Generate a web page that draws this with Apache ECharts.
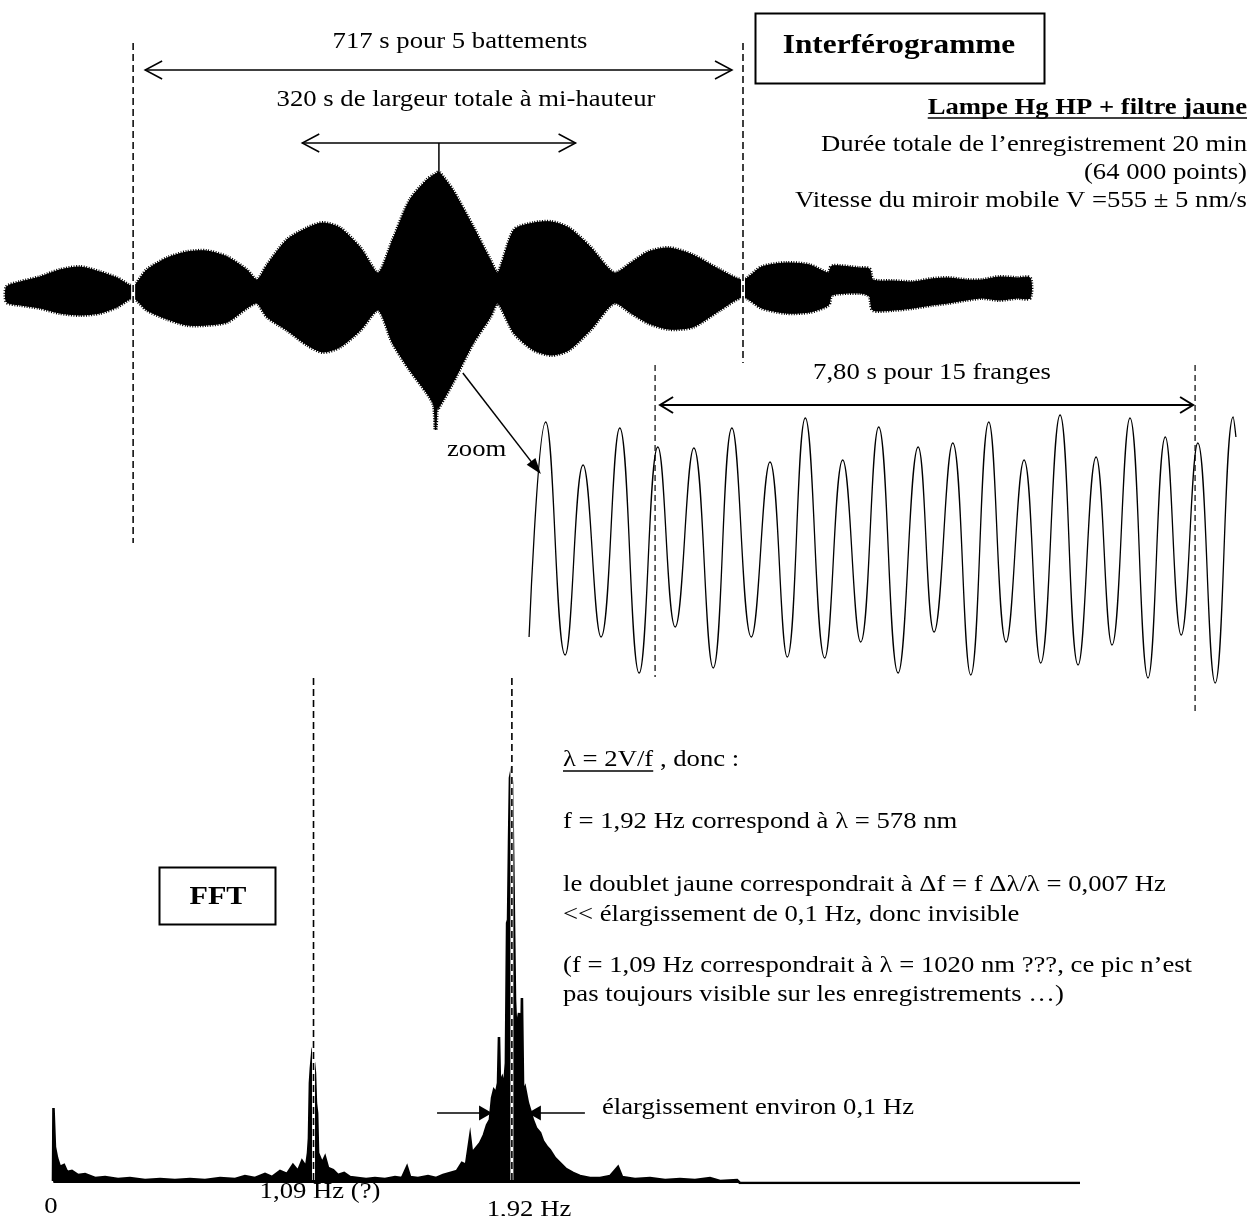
<!DOCTYPE html>
<html><head><meta charset="utf-8">
<script src="https://cdn.jsdelivr.net/npm/echarts@6/dist/echarts.min.js"></script>
<style>html,body{margin:0;padding:0;background:#fff}#c{width:1258px;height:1216px}</style>
</head><body><div id="c"></div>
<script>
// ================= DATA =================
// Interferogram envelope (time in s, signal in arbitrary units)
const envTime = [2,18,41,64,88,111,131,150,166,190,
  213,236,260,283,295,307,330,354,372,392,
  416,437,454,474,494,502,504,506,508,524,
  548,568,577,596,619,640,660,685,713,733,
  753,777,805,837,864,886,914,942,964,968,
  1000,1012,1016,1040,1063,1085,1104,1125,1144,1164,
  1185,1200];
const envUpper = [0.06,0.11,0.16,0.23,0.26,0.21,0.15,0.07,0.23,0.35,
  0.41,0.42,0.36,0.23,0.13,0.28,0.53,0.65,0.70,0.65,
  0.45,0.20,0.53,0.93,1.13,1.18,1.19,1.20,1.21,1.03,
  0.66,0.33,0.20,0.63,0.70,0.71,0.65,0.46,0.20,0.30,
  0.41,0.45,0.38,0.23,0.13,0.26,0.30,0.28,0.20,0.27,
  0.25,0.24,0.13,0.12,0.11,0.14,0.15,0.13,0.13,0.16,
  0.15,0.15];
const envLower = [-0.09,-0.12,-0.15,-0.20,-0.22,-0.20,-0.14,-0.05,-0.17,-0.26,
  -0.32,-0.32,-0.29,-0.15,-0.10,-0.24,-0.37,-0.52,-0.59,-0.54,
  -0.37,-0.17,-0.50,-0.77,-1.00,-1.12,-1.37,-1.15,-1.14,-0.90,
  -0.50,-0.24,-0.10,-0.40,-0.57,-0.62,-0.57,-0.37,-0.10,-0.20,
  -0.30,-0.36,-0.34,-0.17,-0.04,-0.15,-0.20,-0.19,-0.12,-0.02,
  0.00,-0.03,-0.17,-0.17,-0.15,-0.12,-0.10,-0.07,-0.05,-0.07,
  -0.05,-0.05];
const beatMarks = [150, 864];        // s  (717 s for 5 beats)
const peakTime = 508;                // s
const fwhm = 320;                    // s

// Zoom: fringe extrema (time in s, signal arbitrary units)
const zoomTime = [0.03,0.27,0.55,0.81,1.07,1.34,1.62,1.89,2.14,2.41,
  2.69,2.96,3.24,3.51,3.76,4.02,4.30,4.56,4.82,5.08,
  5.36,5.65,5.88,6.15,6.41,6.67,6.92,7.18,7.42,7.70,
  7.96,8.22,8.45,8.71,8.97,9.22,9.45,9.69,9.94,10.20,
  10.24];
const zoomSignal = [-0.87,1.28,-1.05,0.85,-0.87,1.22,-1.23,1.03,-0.77,1.02,
  -1.18,1.22,-0.87,0.88,-1.07,1.32,-1.08,0.90,-0.92,1.23,
  -1.23,1.03,-0.82,1.07,-1.25,1.28,-0.92,0.90,-1.13,1.35,
  -1.15,0.93,-0.95,1.32,-1.28,1.13,-0.85,1.07,-1.33,1.33,
  1.13];
const fringeMarks = [1.85, 9.65];    // s (7,80 s for 15 fringes)

// FFT spectrum (frequency in Hz, amplitude arbitrary units)
const fftFreq = [0,0.002,0.008,0.017,0.029,0.046,0.059,0.079,0.105,0.134,
  0.176,0.218,0.272,0.322,0.385,0.448,0.510,0.573,0.636,0.699,
  0.762,0.803,0.845,0.887,0.916,0.950,0.979,1.004,1.025,1.042,
  1.059,1.067,1.071,1.075,1.079,1.084,1.088,1.092,1.096,1.100,
  1.105,1.109,1.113,1.126,1.138,1.151,1.172,1.192,1.218,1.243,
  1.276,1.310,1.347,1.389,1.431,1.460,1.481,1.494,1.527,1.569,
  1.603,1.632,1.661,1.690,1.711,1.728,1.745,1.753,1.770,1.787,
  1.803,1.816,1.828,1.837,1.845,1.854,1.862,1.866,1.870,1.879,
  1.887,1.895,1.900,1.904,1.908,1.912,1.916,1.921,1.925,1.929,
  1.933,1.937,1.941,1.950,1.958,1.962,1.967,1.975,1.987,2.000,
  2.008,2.021,2.038,2.050,2.067,2.079,2.100,2.121,2.146,2.176,
  2.205,2.247,2.289,2.331,2.364,2.381,2.435,2.498,2.561,2.623,
  2.686,2.749,2.791,2.862,2.874,4.297];
const fftAmp = [0.02,0.75,0.36,0.25,0.16,0.18,0.11,0.12,0.08,0.09,
  0.05,0.06,0.04,0.05,0.03,0.04,0.03,0.04,0.03,0.05,
  0.04,0.07,0.05,0.09,0.06,0.12,0.09,0.18,0.12,0.22,
  0.16,0.30,0.45,1.00,1.15,1.28,1.30,1.20,1.10,0.80,
  0.70,0.30,0.28,0.20,0.26,0.15,0.13,0.08,0.10,0.06,
  0.05,0.04,0.05,0.04,0.06,0.05,0.16,0.06,0.05,0.07,
  0.05,0.08,0.10,0.12,0.20,0.18,0.46,0.30,0.35,0.40,
  0.48,0.58,0.63,0.85,0.93,0.90,1.00,1.46,1.00,1.05,
  0.95,1.20,2.60,2.63,3.40,4.05,4.10,4.00,3.30,3.30,
  1.83,1.60,1.56,1.70,1.20,1.85,0.90,0.95,0.80,0.70,
  0.63,0.55,0.50,0.42,0.36,0.33,0.25,0.20,0.14,0.10,
  0.07,0.05,0.05,0.07,0.16,0.06,0.04,0.05,0.03,0.04,
  0.03,0.05,0.02,0.03,0,0];
const peakFreqs = [1.09, 1.92];      // Hz
const broadening = [1.837, 1.987];   // Hz, arrow tips (~0.1 Hz)

// ================= CHART =================
const chart = echarts.init(document.getElementById('c'), null, {renderer:'canvas', width:1258, height:1216});
const SERIF = '"Liberation Serif","Times New Roman",serif';
const SX = 1.16;
const FS = 23;

function dashedMarker(axisIdx, marks, tops, bottoms, halo, width, dash){
  return {
    type:'custom', xAxisIndex:axisIdx, yAxisIndex:axisIdx, z:5, silent:true,
    encode:{x:0, y:[1,2]},
    data: marks.map((m,i)=>[m, tops[i], bottoms[i]]),
    renderItem:(params, api)=>{
      const x = api.value(0);
      const p1 = api.coord([x, api.value(1)]);
      const p2 = api.coord([x, api.value(2)]);
      const ch = [];
      if (halo) ch.push({type:'line', shape:{x1:p1[0],y1:p1[1],x2:p2[0],y2:p2[1]}, style:{stroke:'#fff', lineWidth:halo}});
      ch.push({type:'line', shape:{x1:p1[0],y1:p1[1],x2:p2[0],y2:p2[1]}, style:{stroke:'#000', lineWidth:width, lineDash:dash}});
      return {type:'group', children:ch};
    }
  };
}

const option = {
  backgroundColor:'#fff',
  animation:false,
  grid:[
    {left:5, top:43, width:1025, height:500},
    {left:527, top:360, width:711, height:360},
    {left:53, top:678, width:1027, height:505}
  ],
  xAxis:[
    {gridIndex:0, type:'value', min:0, max:1200, show:false},
    {gridIndex:1, type:'value', min:0, max:10.27, show:false},
    {gridIndex:2, type:'value', min:0, max:4.297, show:false}
  ],
  yAxis:[
    {gridIndex:0, type:'value', min:-2.5, max:2.5, show:false},
    {gridIndex:1, type:'value', min:-1.7, max:1.9, show:false},
    {gridIndex:2, type:'value', min:0, max:5.05, show:false}
  ],
  series:[
    { // interferogram envelope (filled black band)
      type:'custom', xAxisIndex:0, yAxisIndex:0, z:2, silent:true,
      data:[[envTime[0], envUpper[0]]],
      renderItem:(params, api)=>{
        const pts = [];
        for (let i=0;i<envTime.length;i++) pts.push(api.coord([envTime[i], envUpper[i]]));
        for (let i=envTime.length-1;i>=0;i--) pts.push(api.coord([envTime[i], envLower[i]]));
        return {type:'group', children:[
          {type:'polygon', shape:{points:pts, smooth:0.25}, style:{fill:'#000', stroke:'#000', lineWidth:4, lineDash:[1,1.5]}},
          {type:'polygon', shape:{points:pts, smooth:0.25}, style:{fill:'#000', stroke:'#000', lineWidth:1}}
        ]};
      }
    },
    dashedMarker(0, beatMarks, [2.5, 2.5], [-2.5, -0.7], 4, 1.5, [7,4]),
    { // zoom fringes
      type:'line', xAxisIndex:1, yAxisIndex:1, z:3, silent:true,
      data: zoomTime.map((t,i)=>[t, zoomSignal[i]]),
      smooth:0.45, symbol:'none',
      lineStyle:{color:'#000', width:1.3}
    },
    dashedMarker(1, fringeMarks, [1.85, 1.85], [-1.27, -1.62], 0, 1.2, [6,4]),
    { // FFT
      type:'line', xAxisIndex:2, yAxisIndex:2, z:3, silent:true,
      data: fftFreq.map((f,i)=>[f, fftAmp[i]]),
      symbol:'none',
      lineStyle:{color:'#000', width:2.6, join:'miter'},
      areaStyle:{color:'#000', opacity:1}
    },
    dashedMarker(2, peakFreqs, [5.05, 5.05], [0.03, 0.03], 3, 1.6, [7,4])
  ]
};
chart.setOption(option);

// ================= ANNOTATIONS =================
const px = (gi, p) => chart.convertToPixel({gridIndex:gi}, p);
const G = [];
const K = '#000';
const mctx = document.createElement('canvas').getContext('2d');
function fontStr(size, bold){ return (bold?'bold ':'') + size + 'px ' + SERIF; }
function textW(text, size, bold){ mctx.font = fontStr(size,bold); return mctx.measureText(text).width * SX; }
function txt(text, x, y, align, size, bold){
  size = size || FS; align = align || 'left';
  G.push({type:'text', x:x, y:y, scaleX:SX, z:30, silent:true,
    style:{text:text, font:fontStr(size,bold), fill:K, align:align, verticalAlign:'middle', textAlign:align, textVerticalAlign:'middle'}});
}
function seg(x1,y1,x2,y2,w){ G.push({type:'line', z:25, silent:true, shape:{x1,y1,x2,y2}, style:{stroke:K, lineWidth:w||1.5}}); }
function openHead(x,y,dir,len,hw,w){ G.push({type:'polyline', z:25, silent:true, shape:{points:[[x-dir*len,y-hw],[x,y],[x-dir*len,y+hw]]}, style:{stroke:K, lineWidth:w, fill:'none'}}); }
function dblArrow(xa,xb,y,w,len,hw){ seg(xa,y,xb,y,w); openHead(xa,y,-1,len,hw,w); openHead(xb,y,1,len,hw,w); }
function filledHead(tx,ty,dx,dy,len,hw){
  const bx = tx-dx*len, by = ty-dy*len, nx=-dy, ny=dx;
  G.push({type:'polygon', z:26, silent:true, shape:{points:[[tx,ty],[bx+nx*hw,by+ny*hw],[bx-nx*hw,by-ny*hw]]}, style:{fill:K}});
}

// --- Interferogram ---
const b0 = px(0,[beatMarks[0],0]), b1 = px(0,[beatMarks[1],0]);
dblArrow(b0[0]+12, b1[0]-11, 70, 1.5, 17, 9);
txt('717 s pour 5 battements', 460, 42, 'center');
txt('320 s de largeur totale à mi-hauteur', 466, 100, 'center');
const f0 = px(0,[peakTime-fwhm/2, 1.5]), f1 = px(0,[peakTime+fwhm/2, 1.5]);
dblArrow(f0[0], f1[0], f0[1], 1.5, 17, 9);
const pk = px(0,[peakTime, envUpper[envTime.indexOf(peakTime)]]);
seg(pk[0], f0[1], pk[0], pk[1], 1.5);

G.push({type:'rect', z:25, silent:true, shape:{x:755.5, y:13.5, width:289, height:70}, style:{fill:'none', stroke:K, lineWidth:2}});
txt('Interférogramme', 899, 46, 'center', 27, true);
txt('Lampe Hg HP + filtre jaune', 1247, 108, 'right', FS, true);
const wl = textW('Lampe Hg HP + filtre jaune', FS, true);
seg(1247-wl, 118, 1247, 118, 1.6);
txt('Durée totale de l\u2019enregistrement 20 min', 1247, 145, 'right');
txt('(64 000 points)', 1247, 173, 'right');
txt('Vitesse du miroir mobile V =555 \u00b1 5 nm/s', 1247, 201, 'right');

// zoom arrow
const zs = px(0,[536, -0.8]);
const zt = px(1,[0.2, 0.76]);
{
  const dx = zt[0]-zs[0], dy = zt[1]-zs[1], L = Math.hypot(dx,dy);
  const ux = dx/L, uy = dy/L;
  seg(zs[0], zs[1], zt[0]-ux*10, zt[1]-uy*10, 1.5);
  filledHead(zt[0], zt[1], ux, uy, 16, 5.5);
}
txt('zoom', 447, 450, 'left');

// --- Zoom panel ---
const r0 = px(1,[fringeMarks[0],1.45]), r1 = px(1,[fringeMarks[1],1.45]);
dblArrow(r0[0]+5, r1[0]-2, r0[1], 2, 13, 8);
txt('7,80 s pour 15 franges', 932, 373, 'center');

// --- FFT panel ---
const q0 = px(2,[broadening[0], 0.70]), q1 = px(2,[broadening[1], 0.70]);
seg(q0[0]-55, q0[1], q0[0]-10, q0[1], 1.5);
filledHead(q0[0], q0[1], 1, 0, 13, 7.5);
seg(q1[0]+10, q1[1], q1[0]+57, q1[1], 1.5);
filledHead(q1[0], q1[1], -1, 0, 13, 7.5);
txt('élargissement environ 0,1 Hz', 602, 1108, 'left');

G.push({type:'rect', z:25, silent:true, shape:{x:159.5, y:867.5, width:116, height:57}, style:{fill:'none', stroke:K, lineWidth:2}});
txt('FFT', 218, 897, 'center', 26, true);

txt('\u03bb = 2V/f , donc :', 563, 760, 'left');
const wlam = textW('\u03bb = 2V/f', FS, false);
seg(563, 771, 563+wlam, 771, 1.3);
txt('f = 1,92 Hz correspond à \u03bb = 578 nm', 563, 822, 'left');
txt('le doublet jaune correspondrait à \u0394f = f \u0394\u03bb/\u03bb = 0,007 Hz', 563, 885, 'left');
txt('<< élargissement de 0,1 Hz, donc invisible', 563, 915, 'left');
txt('(f = 1,09 Hz correspondrait à \u03bb = 1020 nm ???, ce pic n\u2019est', 563, 966, 'left');
txt('pas toujours visible sur les enregistrements \u2026)', 563, 995, 'left');

txt('0', 51, 1207, 'center');
txt('1,09 Hz (?)', 320, 1192, 'center');
txt('1,92 Hz', 529, 1210, 'center');

chart.setOption({graphic:{elements:G}});
</script>
</body></html>
